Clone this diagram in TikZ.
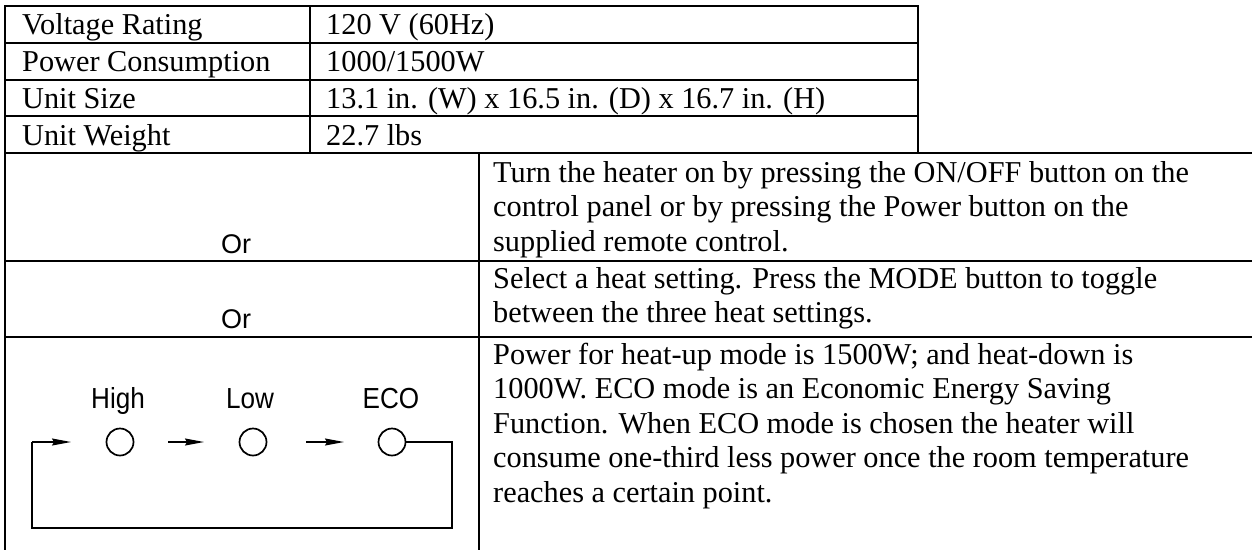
\documentclass[tikz,border=0pt]{standalone}
\usepackage{fontspec}
\setmainfont{Liberation Serif}
\newfontfamily\sansf{Liberation Sans}
\usetikzlibrary{arrows.meta}
\tikzset{
  grid/.style={line width=2pt, line cap=rect},
  cell/.style={inner sep=0pt, anchor=base west, align=left, font=\fontsize{30.3}{34.5}\selectfont},
  ortext/.style={inner sep=0pt, anchor=base, font=\sansf\fontsize{27}{30}\selectfont},
  lab/.style={inner sep=0pt, anchor=base, font=\sansf\fontsize{29}{30}\selectfont, xscale=0.9, transform shape},
  lamp/.style={circle, draw, line width=1.7pt, minimum size=27pt, inner sep=0pt},
  wire/.style={line width=1.3pt},
  arr/.style={wire, -{Stealth[length=19pt,width=7pt,inset=2pt]}}
}
\begin{document}
\begin{tikzpicture}[x=1pt,y=-1pt]
\useasboundingbox (0,0) rectangle (1252,549);
% top table
\draw[grid] (5,6) rectangle (918,153);
\draw[grid] (5,43) -- (918,43);
\draw[grid] (5,80) -- (918,80);
\draw[grid] (5,116) -- (918,116);
\draw[grid] (310,6) -- (310,153);
% lower table
\draw[grid] (5,153) -- (1252,153);
\draw[grid] (5,261) -- (1252,261);
\draw[grid] (5,337) -- (1252,337);
\draw[grid] (5,153) -- (5,549);
\draw[grid] (479,153) -- (479,549);
% top table text
\node[cell] (k1) at (22,34) {Voltage Rating};
\node[cell] (k2) at (22,71) {Power Consumption};
\node[cell] (k3) at (22,108) {Unit Size};
\node[cell] (k4) at (22,145) {Unit Weight};
\node[cell] (v1) at (326,34) {120 V (60Hz)};
\node[cell] (v2) at (326,71) {1000/1500W};
\node[cell] (v3) at (326,108) {13.1 in. (W) x 16.5 in. (D) x 16.7 in. (H)};
\node[cell] (v4) at (326,145) {22.7 lbs};
% lower table text (base anchor = last line)
\node[ortext] (or1) at (236,253) {Or};
\node[ortext] (or2) at (236,328) {Or};
\node[cell] (t1) at (493,251) {Turn the heater on by pressing the ON/OFF button on the\\control panel or by pressing the Power button on the\\supplied remote control.};
\node[cell] (t2) at (493,322.5) {Select a heat setting. Press the MODE button to toggle\\between the three heat settings.};
\node[cell] (t3) at (493,502) {Power for heat-up mode is 1500W; and heat-down is\\1000W. ECO mode is an Economic Energy Saving\\Function. When ECO mode is chosen the heater will\\consume one-third less power once the room temperature\\reaches a certain point.};
% mode diagram
\node[lab] (lh) at (118,408) {High};
\node[lab] (ll) at (250,408) {Low};
\node[lab] (le) at (391,408) {ECO};
\node[lamp] (ch) at (120,442) {};
\node[lamp] (cl) at (253,442) {};
\node[lamp] (ce) at (392,442) {};
\coordinate (s0) at (32,442);
\coordinate (e0) at (71,442);
\coordinate (s1) at (168,442);
\coordinate (e1) at (204,442);
\coordinate (s2) at (306,442);
\coordinate (e2) at (344,442);
\coordinate (r0) at (452,442);
\coordinate (b1) at (452,528);
\coordinate (b0) at (32,528);
\draw[arr] (s0) -- (e0);
\draw[arr] (s1) -- (e1);
\draw[arr] (s2) -- (e2);
\draw[wire] (ce.east) -- (r0) -- (b1) -- (b0) -- (s0);
\end{tikzpicture}
\end{document}
